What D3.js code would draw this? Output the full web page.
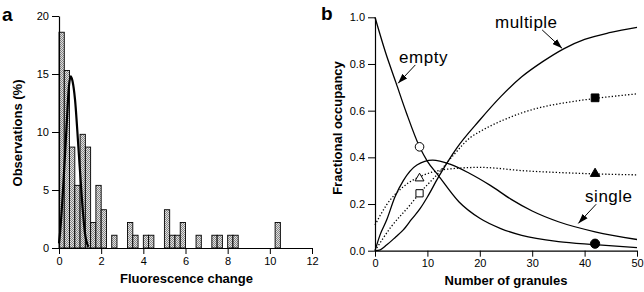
<!DOCTYPE html>
<html>
<head>
<meta charset="utf-8">
<script src="https://cdn.jsdelivr.net/npm/d3@7"></script>
<style>
  body { margin: 0; background: #fff; }
  svg text { font-family: "Liberation Sans", Arial, Helvetica, sans-serif; fill: #000; }
</style>
</head>
<body>
<div id="chart"></div>
<script>

// panel a: histogram (bin start, % of observations), bins are 0.25 wide
const binStart = [0, 0.25, 0.5, 0.75, 1.0, 1.25, 1.5, 1.75, 2.0, 2.5, 3.25, 3.5, 4.0, 4.25,
                  5.0, 5.25, 5.5, 5.75, 6.5, 7.25, 7.5, 8.0, 8.25, 10.25];
const binPct = [18.6, 15.3, 8.7, 5.4, 9.8, 8.7, 2.2, 5.4, 3.3, 1.1, 2.2, 1.1, 1.1, 1.1,
                3.3, 1.1, 1.1, 2.2, 1.1, 1.1, 1.1, 1.1, 1.1, 2.2];
const binWidth = 0.25;

// fitted curve over the histogram
const fitX = [0, 0.05, 0.2, 0.36, 0.47, 0.555, 0.64, 0.76, 0.92, 1.08, 1.23, 1.39];
const fitY = [0.4, 1.3, 5.3, 10.5, 13.9, 14.8, 14.4, 12.8, 8.7, 4.4, 1.3, 0.1];

const aXTicks = [0, 2, 4, 6, 8, 10, 12];
const aYTicks = [0, 5, 10, 15, 20];

// panel b: occupancy curves vs number of granules
const emptyN = [0, 2, 4, 6, 8.5, 10, 12, 16, 20, 24, 28, 35, 42, 50];
const emptyV = [1.0, 0.85, 0.72, 0.59, 0.445, 0.383, 0.325, 0.21, 0.139, 0.095, 0.066, 0.039, 0.026, 0.013];

const singleN = [0, 1, 2.2, 3.8, 5.4, 8, 11, 14.3, 18, 22, 26, 30, 35, 42, 50];
const singleV = [0, 0.07, 0.13, 0.23, 0.30, 0.367, 0.388, 0.371, 0.332, 0.28, 0.22, 0.17, 0.124, 0.081, 0.048];

const multiN = [0, 1, 2.2, 4, 5.4, 7, 8.6, 10, 12.1, 15.6, 20, 24, 28, 32, 36, 40, 45, 50];
const multiV = [0, 0.004, 0.024, 0.06, 0.089, 0.135, 0.18, 0.23, 0.315, 0.44, 0.56, 0.66, 0.745, 0.81, 0.865, 0.905, 0.935, 0.957];

const dotSingleN = [0, 2.2, 5.4, 9.3, 13.7, 20, 28.7, 35, 42, 50];
const dotSingleV = [0.11, 0.196, 0.274, 0.324, 0.349, 0.357, 0.342, 0.335, 0.329, 0.325];

const dotMultiN = [0, 3, 6.7, 8.5, 12, 15, 18.2, 20, 24.5, 30.9, 36, 41.9, 50];
const dotMultiV = [0, 0.10, 0.196, 0.246, 0.33, 0.41, 0.485, 0.51, 0.56, 0.61, 0.633, 0.652, 0.672];

const markN = [8.5, 8.5, 8.5, 42, 42, 42];
const markV = [0.445, 0.31, 0.246, 0.655, 0.33, 0.03];
const markShape = ["circle", "triangle", "square", "square", "triangle", "circle"];
const markFilled = [false, false, false, true, true, true];

const bXTicks = [0, 10, 20, 30, 40, 50];
const bYTicks = [0, 0.2, 0.4, 0.6, 0.8, 1.0];

const width = 644, height = 292;

let svg = d3.select("#chart")
    .append("svg")
    .attr("width", width)
    .attr("height", height);

let defs = svg.append("defs");
let pat = defs.append("pattern")
    .attr("id", "stipple")
    .attr("width", 2).attr("height", 2)
    .attr("patternUnits", "userSpaceOnUse");
pat.append("rect").attr("width", 2).attr("height", 2).attr("fill", "#e2e2e2");
pat.append("rect").attr("width", 1).attr("height", 1).attr("fill", "#858585");
pat.append("rect").attr("x", 1).attr("y", 1).attr("width", 1).attr("height", 1).attr("fill", "#858585");

defs.append("marker")
    .attr("id", "arrow")
    .attr("viewBox", "0 0 12 8")
    .attr("refX", 12).attr("refY", 4)
    .attr("markerWidth", 10).attr("markerHeight", 7)
    .attr("markerUnits", "userSpaceOnUse")
    .attr("orient", "auto")
    .append("path")
    .attr("d", "M0,0 L12,4 L0,8 z")
    .attr("fill", "#000");

function styleAxis(g) {
  g.selectAll("text").style("font-size", "11px").style("font-family", "Liberation Sans, Arial, sans-serif");
  g.selectAll("line").attr("stroke", "#000").attr("stroke-width", 1);
  g.select(".domain").attr("stroke", "#000").attr("stroke-width", 1.2);
}

// ---------------- panel a ----------------
let xa = d3.scaleLinear().domain([0, 12]).range([59, 312]);
let ya = d3.scaleLinear().domain([0, 20]).range([248, 16]);

let ga = svg.append("g");

ga.selectAll("rect.bar")
    .data(binStart)
    .enter()
    .append("rect")
    .attr("class", "bar")
    .attr("x", d => xa(d))
    .attr("y", (d, i) => ya(binPct[i]))
    .attr("width", d => xa(d + binWidth) - xa(d))
    .attr("height", (d, i) => ya(0) - ya(binPct[i]))
    .attr("fill", "url(#stipple)")
    .attr("stroke", "#000")
    .attr("stroke-width", 0.9);

let fitLine = d3.line()
    .x((d, i) => xa(fitX[i]))
    .y((d, i) => ya(fitY[i]))
    .curve(d3.curveMonotoneX);

ga.append("path")
    .attr("d", fitLine(fitX))
    .attr("fill", "none")
    .attr("stroke", "#000")
    .attr("stroke-width", 2.2);

ga.append("g")
    .attr("transform", `translate(0, ${ya(0)})`)
    .call(d3.axisBottom(xa).tickValues(aXTicks).tickSize(6).tickSizeOuter(0).tickPadding(3))
    .call(styleAxis);

ga.append("g")
    .attr("transform", `translate(${xa(0)}, 0)`)
    .call(d3.axisLeft(ya).tickValues(aYTicks).tickSize(7).tickSizeOuter(0).tickPadding(3))
    .call(styleAxis);

ga.append("text")
    .attr("x", (xa(0) + xa(12)) / 2 + 1)
    .attr("y", 283)
    .style("text-anchor", "middle")
    .style("font-size", "13px")
    .style("font-weight", "bold")
    .text("Fluorescence change");

ga.append("text")
    .attr("transform", `translate(22, ${(ya(0) + ya(20)) / 2 + 1}) rotate(-90)`)
    .style("text-anchor", "middle")
    .style("font-size", "13px")
    .style("font-weight", "bold")
    .text("Observations (%)");

svg.append("text")
    .attr("x", 2).attr("y", 21)
    .style("font-size", "19px")
    .style("font-weight", "bold")
    .text("a");

// ---------------- panel b ----------------
let xb = d3.scaleLinear().domain([0, 50]).range([375, 637]);
let yb = d3.scaleLinear().domain([0, 1]).range([250.7, 17.3]);

let gb = svg.append("g");

function lineFrom(ns, vs) {
  return d3.line()
      .x((d, i) => xb(ns[i]))
      .y((d, i) => yb(vs[i]))
      .curve(d3.curveMonotoneX)(ns);
}

let solid = [[emptyN, emptyV], [singleN, singleV], [multiN, multiV]];
let dotted = [[dotSingleN, dotSingleV], [dotMultiN, dotMultiV]];

gb.selectAll("path.dot")
    .data(dotted)
    .enter()
    .append("path")
    .attr("class", "dot")
    .attr("d", d => lineFrom(d[0], d[1]))
    .attr("fill", "none")
    .attr("stroke", "#000")
    .attr("stroke-width", 1.3)
    .attr("stroke-dasharray", "1.3,2");

gb.selectAll("path.solid")
    .data(solid)
    .enter()
    .append("path")
    .attr("class", "solid")
    .attr("d", d => lineFrom(d[0], d[1]))
    .attr("fill", "none")
    .attr("stroke", "#000")
    .attr("stroke-width", 1.3);

let symType = {circle: d3.symbolCircle, triangle: d3.symbolTriangle, square: d3.symbolSquare};
let symSize = {circle: 58, triangle: 34, square: 52};

gb.selectAll("path.mark")
    .data(markN)
    .enter()
    .append("path")
    .attr("class", "mark")
    .attr("transform", (d, i) => `translate(${xb(d)}, ${yb(markV[i])})`)
    .attr("d", (d, i) => d3.symbol().type(symType[markShape[i]]).size(symSize[markShape[i]] * (markFilled[i] ? 1.15 : 1))())
    .attr("fill", (d, i) => markFilled[i] ? "#000" : "#fff")
    .attr("stroke", "#000")
    .attr("stroke-width", 1);

gb.append("g")
    .attr("transform", `translate(0, ${yb(0)})`)
    .call(d3.axisBottom(xb).tickValues(bXTicks).tickSize(6).tickSizeOuter(0).tickPadding(3))
    .call(styleAxis);

gb.append("g")
    .attr("transform", `translate(${xb(0)}, 0)`)
    .call(d3.axisLeft(yb).tickValues(bYTicks).tickFormat(d3.format(".1f")).tickSize(7).tickSizeOuter(0).tickPadding(3))
    .call(styleAxis);

gb.append("text")
    .attr("x", (xb(0) + xb(50)) / 2)
    .attr("y", 285)
    .style("text-anchor", "middle")
    .style("font-size", "13px")
    .style("font-weight", "bold")
    .text("Number of granules");

gb.append("text")
    .attr("transform", `translate(342, ${(yb(0) + yb(1)) / 2 - 6}) rotate(-90)`)
    .style("text-anchor", "middle")
    .style("font-size", "13px")
    .style("font-weight", "bold")
    .text("Fractional occupancy");

svg.append("text")
    .attr("x", 321).attr("y", 20)
    .style("font-size", "19px")
    .style("font-weight", "bold")
    .text("b");

// curve labels with arrows
const labText = ["empty", "multiple", "single"];
const labN = [4.6, 22.9, 40.1];
const labV = [0.804, 0.953, 0.21];
const arrowFromN = [7.7, 31.9, 42.2];
const arrowFromV = [0.796, 0.946, 0.199];
const arrowToN = [4.4, 35.7, 38.8];
const arrowToV = [0.717, 0.867, 0.117];

gb.selectAll("text.lab")
    .data(labText)
    .enter()
    .append("text")
    .attr("class", "lab")
    .attr("x", (d, i) => xb(labN[i]))
    .attr("y", (d, i) => yb(labV[i]))
    .style("font-size", "17px")
    .style("letter-spacing", "0.5px")
    .text(d => d);

gb.selectAll("line.arr")
    .data(labText)
    .enter()
    .append("line")
    .attr("class", "arr")
    .attr("x1", (d, i) => xb(arrowFromN[i]))
    .attr("y1", (d, i) => yb(arrowFromV[i]))
    .attr("x2", (d, i) => xb(arrowToN[i]))
    .attr("y2", (d, i) => yb(arrowToV[i]))
    .attr("stroke", "#000")
    .attr("stroke-width", 1)
    .attr("marker-end", "url(#arrow)");

</script>
</body>
</html>
